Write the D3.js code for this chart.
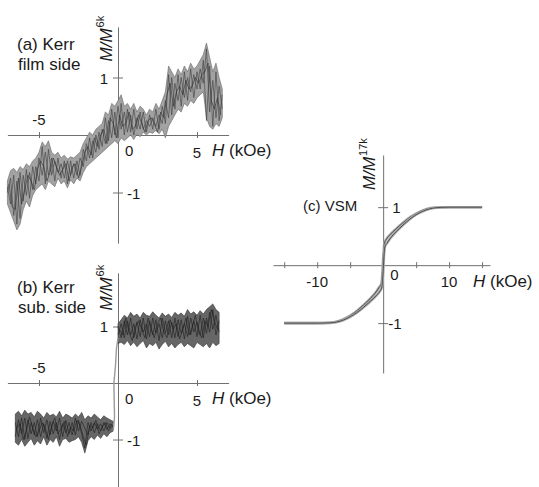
<!DOCTYPE html>
<html lang="en">
<head>
<meta charset="utf-8">
<title>Kerr and VSM loops</title>
<script src="https://d3js.org/d3.v7.min.js"></script>
<style>
  body { margin: 0; background: #fff; }
  svg { font-family: "Liberation Sans", Arial, sans-serif; fill: #1a1a1a; }
  .axis path, .axis line { stroke: #707070; stroke-width: 1; }
</style>
</head>
<body>
<div class="chart"></div>
<script>
// (a) Kerr, film side : field grid, envelope of the noisy band, sweeps
const filmH = [-7.0,-6.8,-6.6,-6.4,-6.2,-6.0,-5.8,-5.6,-5.4,-5.2,
  -5.0,-4.8,-4.6,-4.4,-4.2,-4.0,-3.8,-3.6,-3.4,-3.2,
  -3.0,-2.8,-2.6,-2.4,-2.2,-2.0,-1.8,-1.6,-1.4,-1.2,
  -1.0,-0.8,-0.6,-0.4,-0.2,0.0,0.2,0.4,0.6,0.8,
  1.0,1.2,1.4,1.6,1.8,2.0,2.2,2.4,2.6,2.8,
  3.0,3.2,3.4,3.6,3.8,4.0,4.2,4.4,4.6,4.8,
  5.0,5.2,5.4,5.6,5.8,6.0,6.2,6.4,6.6];
const filmLo = [-1.20,-1.35,-1.50,-1.65,-1.55,-1.30,-1.15,-1.25,-1.05,-0.95,
  -0.90,-0.85,-0.95,-0.80,-0.85,-0.90,-0.75,-0.85,-0.80,-0.92,
  -0.78,-0.85,-0.75,-0.80,-0.65,-0.55,-0.50,-0.45,-0.40,-0.35,
  -0.30,-0.25,-0.20,-0.15,-0.10,-0.15,-0.05,-0.10,-0.05,0.00,
  -0.08,0.02,-0.03,0.05,0.00,0.05,0.03,0.08,0.02,0.10,
  -0.05,0.15,0.25,0.35,0.45,0.40,0.55,0.50,0.60,0.55,
  0.65,0.70,0.75,0.30,0.15,0.10,0.20,0.15,0.30];
const filmHi = [-0.80,-0.62,-0.58,-0.65,-0.55,-0.60,-0.50,-0.55,-0.45,-0.40,
  -0.30,-0.12,-0.20,-0.10,-0.30,-0.35,-0.30,-0.40,-0.35,-0.42,
  -0.38,-0.40,-0.35,-0.30,-0.15,-0.05,0.05,0.00,0.10,0.15,
  0.20,0.40,0.35,0.55,0.50,0.60,0.70,0.50,0.55,0.45,
  0.55,0.40,0.50,0.45,0.35,0.45,0.40,0.55,0.45,0.60,
  0.75,1.20,1.10,1.00,1.15,1.05,1.20,1.10,1.25,1.15,
  1.20,1.30,1.40,1.60,1.35,1.10,1.25,1.00,0.80];
const filmTrace1 = [-1.00,-0.75,-1.40,-0.80,-1.45,-0.70,-1.05,-0.65,-0.95,-0.55,
  -0.80,-0.20,-0.85,-0.25,-0.70,-0.45,-0.65,-0.50,-0.75,-0.45,
  -0.70,-0.50,-0.70,-0.40,-0.55,-0.15,-0.40,-0.10,-0.30,0.05,
  -0.20,0.30,-0.10,0.45,0.00,0.50,0.10,0.40,0.05,0.35,
  0.00,0.30,0.10,0.40,0.05,0.35,0.10,0.45,0.10,0.50,
  0.20,1.05,0.35,0.90,0.60,1.00,0.65,1.00,0.75,1.05,
  0.80,1.15,0.90,1.50,0.40,0.95,0.30,0.85,0.45];
const filmTrace2 = [-0.90,-1.20,-0.70,-1.55,-0.65,-1.15,-0.60,-1.10,-0.55,-0.85,
  -0.40,-0.70,-0.30,-0.70,-0.40,-0.80,-0.40,-0.75,-0.45,-0.85,
  -0.45,-0.75,-0.45,-0.70,-0.25,-0.45,-0.05,-0.40,0.00,-0.25,
  0.10,-0.15,0.25,-0.05,0.40,-0.05,0.55,0.00,0.45,0.05,
  0.45,0.10,0.40,0.10,0.25,0.15,0.30,0.15,0.35,0.20,
  0.60,0.30,1.00,0.45,1.05,0.50,1.10,0.60,1.15,0.65,
  1.10,0.80,1.30,0.25,1.20,0.15,1.10,0.25,0.70];
// third sweep, sampled between the grid points above
const filmHMid = [-6.9,-6.7,-6.5,-6.3,-6.1,-5.9,-5.7,-5.5,-5.3,-5.1,
  -4.9,-4.7,-4.5,-4.3,-4.1,-3.9,-3.7,-3.5,-3.3,-3.1,
  -2.9,-2.7,-2.5,-2.3,-2.1,-1.9,-1.7,-1.5,-1.3,-1.1,
  -0.9,-0.7,-0.5,-0.3,-0.1,0.1,0.3,0.5,0.7,0.9,
  1.1,1.3,1.5,1.7,1.9,2.1,2.3,2.5,2.7,2.9,
  3.1,3.3,3.5,3.7,3.9,4.1,4.3,4.5,4.7,4.9,
  5.1,5.3,5.5,5.7,5.9,6.1,6.3,6.5];
const filmTrace3 = [-0.85,-1.25,-1.30,-0.75,-1.20,-0.95,-0.70,-0.80,-0.95,-0.60,
  -0.45,-0.55,-0.80,-0.65,-0.40,-0.55,-0.70,-0.60,-0.50,-0.80,
  -0.55,-0.50,-0.75,-0.55,-0.30,-0.20,-0.35,-0.05,-0.20,0.00,
  0.10,-0.15,0.30,0.20,-0.05,0.35,0.15,0.20,0.40,0.10,
  0.15,0.35,0.20,0.05,0.25,0.30,0.20,0.05,0.40,0.30,
  0.70,0.90,0.50,0.75,0.85,0.70,0.95,0.80,0.85,1.00,
  0.90,1.05,1.10,1.25,0.60,0.45,0.65,0.35];

// (b) Kerr, substrate side : negative and positive plateaus
const subNegH = [-6.5,-6.3,-6.1,-5.9,-5.7,-5.5,-5.3,-5.1,-4.9,-4.7,
  -4.5,-4.3,-4.1,-3.9,-3.7,-3.5,-3.3,-3.1,-2.9,-2.7,
  -2.5,-2.3,-2.1,-1.9,-1.7,-1.5,-1.3,-1.1,-0.9,-0.7,
  -0.5,-0.3];
const subNegLo = [-1.05,-1.10,-1.00,-1.12,-1.05,-0.98,-1.10,-1.02,-1.08,-0.95,
  -1.10,-1.00,-1.05,-0.95,-1.12,-1.00,-0.98,-1.05,-1.02,-1.00,
  -0.95,-1.05,-1.24,-1.02,-0.95,-1.00,-0.92,-0.98,-0.90,-0.95,
  -0.88,-0.85];
const subNegHi = [-0.55,-0.50,-0.58,-0.48,-0.55,-0.52,-0.60,-0.50,-0.55,-0.62,
  -0.52,-0.58,-0.55,-0.60,-0.50,-0.62,-0.55,-0.58,-0.62,-0.55,
  -0.60,-0.52,-0.65,-0.58,-0.62,-0.55,-0.60,-0.65,-0.58,-0.62,
  -0.65,-0.68];
const subNegTrace1 = [-0.70,-0.95,-0.62,-1.00,-0.65,-0.90,-0.70,-0.95,-0.62,-0.88,
  -0.65,-0.92,-0.68,-0.85,-0.62,-0.95,-0.66,-0.90,-0.70,-0.92,
  -0.66,-0.90,-1.15,-0.70,-0.85,-0.70,-0.82,-0.72,-0.85,-0.70,
  -0.80,-0.75];
const subNegTrace2 = [-0.95,-0.65,-0.90,-0.62,-0.98,-0.70,-0.92,-0.65,-0.95,-0.72,
  -0.98,-0.68,-0.90,-0.70,-1.00,-0.72,-0.88,-0.70,-0.92,-0.62,
  -0.85,-0.68,-0.80,-0.92,-0.70,-0.88,-0.72,-0.85,-0.70,-0.82,
  -0.72,-0.78];
const subNegHMid = [-6.4,-6.2,-6.0,-5.8,-5.6,-5.4,-5.2,-5.0,-4.8,-4.6,
  -4.4,-4.2,-4.0,-3.8,-3.6,-3.4,-3.2,-3.0,-2.8,-2.6,
  -2.4,-2.2,-2.0,-1.8,-1.6,-1.4,-1.2,-1.0,-0.8,-0.6,
  -0.4];
const subNegTrace3 = [-0.80,-0.72,-1.00,-0.85,-0.60,-0.78,-0.95,-0.85,-0.70,-0.80,
  -1.00,-0.75,-0.62,-0.90,-0.80,-0.68,-0.95,-0.78,-0.85,-0.66,
  -0.75,-0.95,-1.10,-0.75,-0.80,-0.66,-0.90,-0.78,-0.70,-0.85,
  -0.72];
const subPosH = [0.0,0.2,0.4,0.6,0.8,1.0,1.2,1.4,1.6,1.8,
  2.0,2.2,2.4,2.6,2.8,3.0,3.2,3.4,3.6,3.8,
  4.0,4.2,4.4,4.6,4.8,5.0,5.2,5.4,5.6,5.8,
  6.0,6.2,6.4];
const subPosLo = [0.70,0.72,0.68,0.75,0.66,0.72,0.64,0.70,0.75,0.62,
  0.70,0.66,0.72,0.60,0.68,0.74,0.64,0.70,0.62,0.68,
  0.72,0.64,0.70,0.66,0.62,0.72,0.68,0.64,0.70,0.62,
  0.72,0.66,0.70];
const subPosHi = [1.05,1.12,1.20,1.15,1.25,1.18,1.22,1.15,1.25,1.20,
  1.18,1.26,1.20,1.15,1.24,1.18,1.22,1.16,1.25,1.20,
  1.24,1.18,1.30,1.22,1.26,1.20,1.28,1.22,1.30,1.35,
  1.40,1.30,1.25];
const subPosTrace1 = [0.85,1.05,0.80,1.10,0.85,1.05,0.78,1.12,0.90,1.05,
  0.82,1.15,0.88,1.05,0.80,1.10,0.85,1.08,0.80,1.12,
  0.88,1.05,0.82,1.15,0.90,1.08,0.85,1.15,0.88,1.25,
  0.95,1.20,0.90];
const subPosTrace2 = [1.00,0.80,1.10,0.85,1.15,0.80,1.08,0.82,1.15,0.78,
  1.10,0.85,1.12,0.75,1.15,0.88,1.10,0.80,1.15,0.82,
  1.12,0.78,1.18,0.85,1.10,0.82,1.20,0.80,1.15,0.90,
  1.30,0.85,1.10];
const subPosHMid = [0.1,0.3,0.5,0.7,0.9,1.1,1.3,1.5,1.7,1.9,
  2.1,2.3,2.5,2.7,2.9,3.1,3.3,3.5,3.7,3.9,
  4.1,4.3,4.5,4.7,4.9,5.1,5.3,5.5,5.7,5.9,
  6.1,6.3];
const subPosTrace3 = [0.95,0.85,1.15,0.90,0.75,1.00,1.10,0.95,0.80,1.15,
  0.95,0.80,1.05,1.15,0.90,0.80,1.12,0.95,1.05,0.78,
  0.95,1.15,0.85,1.00,1.20,0.90,0.80,1.10,1.00,1.30,
  1.10,0.95];
const subJumpH = [-0.30,-0.22,-0.26,-0.16,-0.10,0.00];
const subJumpM = [-0.85,-0.60,0.00,0.30,0.60,0.80];

// (c) VSM : descending and ascending branches
const vsmDownH = [15,12,10,8,7,6,5,4,3,2,1,0.5,0.2,0.05,-0.05,-0.15,-0.3,-0.6,-1,-2,-3,-4,-5,-6,-7,-8,-10,-12,-15];
const vsmDownM = [1.0,1.0,1.0,0.995,0.98,0.945,0.89,0.82,0.73,0.63,0.52,0.45,0.38,0.20,0.00,-0.20,-0.33,-0.38,-0.45,-0.58,-0.69,-0.79,-0.87,-0.93,-0.97,-0.99,-1.0,-1.0,-1.0];
const vsmUpH = [-15,-12,-10,-8,-7,-6,-5,-4,-3,-2,-1,-0.5,-0.2,-0.05,0.05,0.15,0.3,0.6,1,2,3,4,5,6,7,8,10,12,15];
const vsmUpM = [-1.0,-1.0,-1.0,-0.995,-0.98,-0.945,-0.89,-0.82,-0.73,-0.63,-0.52,-0.45,-0.38,-0.20,0.00,0.20,0.33,0.38,0.45,0.58,0.69,0.79,0.87,0.93,0.97,0.99,1.0,1.0,1.0];

// ticks and tick labels
const kerrXTicks = [-5, 5];
const kerrYTicks = [-1, 1];
const vsmXTicks = [-15, -10, -5, 5, 10, 15];
const vsmYTicks = [-1, 1];
const kerrXLabels = ["-5", "0", "5"];
const vsmXLabels = ["-10", "0", "10"];
const yTickLabels = ["1", "-1"];

const svg = d3.select(".chart").append("svg")
  .attr("width", 539)
  .attr("height", 487);

function drawAxes(x, y, xt, yt) {
  const gx = svg.append("g")
    .attr("class", "axis")
    .attr("transform", `translate(0,${y(0)})`)
    .call(d3.axisBottom(x).tickValues(xt).tickSizeOuter(0).tickFormat(""));
  gx.selectAll(".tick line").attr("y1", -3).attr("y2", 3);
  const gy = svg.append("g")
    .attr("class", "axis")
    .attr("transform", `translate(${x(0)},0)`)
    .call(d3.axisLeft(y).tickValues(yt).tickSizeOuter(0).tickFormat(""));
  gy.selectAll(".tick line").attr("x1", -5).attr("x2", 5);
}

function text(x, y, s, anchor, size) {
  return svg.append("text")
    .attr("x", x).attr("y", y)
    .attr("text-anchor", anchor || "start")
    .attr("font-size", size || 15)
    .text(s);
}

function yTitle(x, y, sup) {
  const t = svg.append("text")
    .attr("transform", `translate(${x},${y}) rotate(-90)`)
    .attr("font-size", 17);
  t.append("tspan").attr("font-style", "italic").text("M/M");
  t.append("tspan").attr("font-size", 11).attr("dy", -8).attr("dx", 1).text(sup);
}

function xTitle(x, y) {
  const t = svg.append("text").attr("x", x).attr("y", y).attr("font-size", 17);
  t.append("tspan").attr("font-style", "italic").text("H");
  t.append("tspan").text(" (kOe)");
}

function trace(x, y, H, M, color, w) {
  svg.append("path").datum(d3.range(H.length))
    .attr("d", d3.line().x(i => x(H[i])).y(i => y(M[i])))
    .attr("fill", "none")
    .attr("stroke", color)
    .attr("stroke-width", w);
}

function band(x, y, H, lo, hi, fill, edge) {
  svg.append("path").datum(d3.range(H.length))
    .attr("d", d3.area().x(i => x(H[i])).y0(i => y(lo[i])).y1(i => y(hi[i])))
    .attr("fill", fill)
    .attr("stroke", edge)
    .attr("stroke-width", 0.6);
}

// ---- (a)
const xA = d3.scaleLinear().domain([-7, 7]).range([7.4, 228.6]);
const yA = d3.scaleLinear().domain([-1.88, 1.88]).range([243.1, 26.9]);
drawAxes(xA, yA, kerrXTicks, kerrYTicks);
band(xA, yA, filmH, filmLo, filmHi, "#a2a2a2", "#666");
trace(xA, yA, filmH, filmTrace1, "#3c3c3c", 0.6);
trace(xA, yA, filmH, filmTrace2, "#3c3c3c", 0.6);
trace(xA, yA, filmHMid, filmTrace3, "#2c2c2c", 0.6);

// ---- (b)
const xB = d3.scaleLinear().domain([-7, 7]).range([7.4, 228.6]);
const yB = d3.scaleLinear().domain([-1.84, 1.95]).range([487, 272.8]);
drawAxes(xB, yB, kerrXTicks, kerrYTicks);
band(xB, yB, subNegH, subNegLo, subNegHi, "#666", "#333");
band(xB, yB, subPosH, subPosLo, subPosHi, "#666", "#333");
[[subNegH, subNegTrace1], [subNegH, subNegTrace2], [subNegHMid, subNegTrace3],
 [subPosH, subPosTrace1], [subPosH, subPosTrace2], [subPosHMid, subPosTrace3]]
  .forEach(([H, M]) => trace(xB, yB, H, M, "#1e1e1e", 0.6));
trace(xB, yB, subJumpH, subJumpM, "#9a9a9a", 1.4);

[[xA, yA, "(a) Kerr", "film side", 85], [xB, yB, "(b) Kerr", "sub. side", 90]].forEach(([x, y, l1, l2, up]) => {
  text(17, y(0) - up, l1, "start", 17);
  text(18, y(0) - up + 20, l2, "start", 17);
  text(x(-5), y(0) - 10, kerrXLabels[0], "middle");
  text(x(0) + 7, y(0) + 21, kerrXLabels[1]);
  text(x(5), y(0) + 23, kerrXLabels[2], "middle");
  text(x(0) - 10, y(1) + 6, yTickLabels[0], "end");
  text(x(0) + 9, y(-1) + 6, yTickLabels[1]);
  xTitle(x(0) + 94, y(0) + 21);
  yTitle(x(0) - 6, y(1) - 16, "6k");
});

// ---- (c)
const xC = d3.scaleLinear().domain([-16.7, 16.2]).range([273, 490]);
const yC = d3.scaleLinear().domain([-1.86, 1.9]).range([373, 155]);
drawAxes(xC, yC, vsmXTicks, vsmYTicks);
[[vsmDownH, vsmDownM], [vsmUpH, vsmUpM]].forEach(([H, M]) => {
  const line = d3.line().x(i => xC(H[i])).y(i => yC(M[i])).curve(d3.curveMonotoneX);
  const idx = d3.range(H.length);
  svg.append("path").datum(idx).attr("d", line)
    .attr("fill", "none").attr("stroke", "#aaa").attr("stroke-width", 2.6);
  svg.append("path").datum(idx).attr("d", line)
    .attr("fill", "none").attr("stroke", "#444").attr("stroke-width", 0.9);
});
text(303, yC(1) + 4, "(c) VSM", "start", 15);
text(xC(-10), yC(0) + 22, vsmXLabels[0], "middle");
text(xC(0) + 7, yC(0) + 15, vsmXLabels[1]);
text(xC(10), yC(0) + 22, vsmXLabels[2], "middle");
text(xC(0) + 9, yC(1) + 6, yTickLabels[0]);
text(xC(0) + 5, yC(-1) + 6, yTickLabels[1]);
xTitle(473, yC(0) + 22);
yTitle(xC(0) - 8, 190, "17k");
</script>
</body>
</html>
